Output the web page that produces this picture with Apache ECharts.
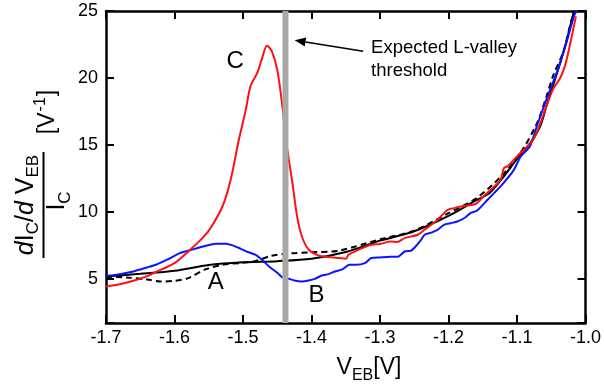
<!DOCTYPE html>
<html><head><meta charset="utf-8">
<script src="https://cdn.jsdelivr.net/npm/echarts@6/dist/echarts.min.js"></script>
<style>html,body{margin:0;padding:0;background:#fff}#c{width:604px;height:385px}</style>
</head><body><div id="c"></div>
<script>
// ---- data (V_EB in volts, normalized derivative in 1/V) ----
const xMin = -1.7, xMax = -1.0, yMin = 1.7, yMax = 25;
const thresholdV = -1.438;

const solidX = [-1.70,-1.65,-1.60,-1.55,-1.50,-1.45,-1.40,-1.35,-1.30,-1.25,-1.20,-1.16,-1.14,-1.12,-1.10,-1.08,-1.066,-1.057,-1.047,-1.037,-1.027,-1.017];
const solidY = [5.18,5.37,5.60,6.03,6.23,6.32,6.50,7.00,7.85,8.55,9.70,10.85,11.4,12.6,13.95,15.2,16.4,17.9,19.5,21.1,22.9,25.0];

const dashX = [-1.70,-1.67,-1.64,-1.62,-1.60,-1.58,-1.555,-1.53,-1.50,-1.48,-1.46,-1.43,-1.40,-1.36,-1.30,-1.25,-1.20,-1.16,-1.124,-1.095,-1.071,-1.057,-1.047,-1.032,-1.02,-1.014];
const dashY = [5.15,5.10,4.95,4.80,4.85,5.05,5.70,6.05,6.20,6.35,6.70,6.90,6.98,7.10,7.95,8.60,9.90,11.0,12.6,14.4,16.6,18.6,20.2,22.0,24.4,25.0];

const blueX = [-1.700,-1.680,-1.660,-1.640,-1.627,-1.610,-1.593,-1.573,-1.555,-1.540,-1.525,-1.515,-1.506,-1.495,-1.482,-1.472,-1.462,-1.450,-1.443,-1.433,-1.425,-1.415,-1.404,-1.395,-1.385,-1.375,-1.366,-1.355,-1.345,-1.335,-1.322,-1.313,-1.300,-1.285,-1.274,-1.264,-1.255,-1.250,-1.240,-1.235,-1.225,-1.216,-1.206,-1.197,-1.187,-1.175,-1.168,-1.158,-1.143,-1.124,-1.105,-1.095,-1.081,-1.071,-1.057,-1.042,-1.028,-1.017,-1.013];
const blueY = [5.22,5.35,5.55,5.85,6.05,6.45,6.90,7.20,7.45,7.62,7.62,7.50,7.30,7.05,6.80,6.40,5.92,5.45,5.13,5.00,4.88,4.80,4.88,5.00,5.25,5.35,5.55,5.70,6.05,6.05,6.17,6.55,6.60,6.65,6.65,7.04,7.10,7.30,7.90,8.29,8.45,8.66,9.04,9.15,9.28,9.60,9.91,10.1,10.9,11.9,13.1,14.1,14.9,16.4,18.4,20.4,22.6,24.6,25.0];

const redX = [-1.700,-1.680,-1.660,-1.640,-1.629,-1.600,-1.576,-1.560,-1.549,-1.530,-1.518,-1.506,-1.496,-1.489,-1.479,-1.472,-1.465,-1.458,-1.450,-1.443,-1.436,-1.428,-1.421,-1.414,-1.404,-1.390,-1.375,-1.360,-1.350,-1.346,-1.330,-1.313,-1.300,-1.284,-1.275,-1.264,-1.245,-1.235,-1.216,-1.201,-1.192,-1.182,-1.170,-1.160,-1.148,-1.135,-1.124,-1.119,-1.114,-1.100,-1.090,-1.076,-1.066,-1.057,-1.047,-1.037,-1.030,-1.023,-1.014];
const redY = [4.43,4.60,4.85,5.20,5.47,6.17,7.22,8.00,8.66,10.4,12.4,15.4,17.6,19.4,20.4,21.5,22.4,22.0,20.6,18.1,14.9,12.2,9.66,8.16,7.17,6.75,6.62,6.55,6.50,6.80,7.20,7.54,7.60,7.79,7.75,8.04,8.29,8.66,9.41,10.16,10.28,10.4,10.5,10.6,11.2,11.8,12.4,13.27,13.4,14.14,14.64,15.4,16.6,17.9,19.2,20.0,20.9,22.4,24.6];

// annotation anchors in data coordinates
const letterLabels = ['A','B','C'];
const letterX = [-1.5396,-1.3928,-1.5113];
const letterY = [4.70,3.80,21.26];
const noteLines = ['Expected L-valley','threshold'];
const noteX = -1.313;
const noteY = [22.26,20.55];
const arrowFrom = [-1.3246,21.99];
const arrowTo = [-1.4246,22.81];

const FAM = '"Liberation Sans", Arial, sans-serif';
const zip = (xs, ys) => xs.map((x,i)=>[x, ys[i]]);

const chart = echarts.init(document.getElementById('c'), null, {renderer:'canvas'});
const axisLine = {show:true, lineStyle:{color:'#000', width:2.5}};
const axisTick = {show:true, inside:true, length:8, lineStyle:{color:'#000', width:2}};
chart.setOption({
  animation:false,
  backgroundColor:'#fff',
  grid:{left:106, right:15, top:11, bottom:62, containLabel:false},
  xAxis:[
    {type:'value', min:xMin, max:xMax, interval:0.1, position:'bottom',
     axisLine, axisTick, splitLine:{show:false},
     axisLabel:{color:'#000', fontSize:18, fontFamily:FAM, margin:6, formatter:v=>v.toFixed(1)}},
    {type:'value', min:xMin, max:xMax, interval:0.1, position:'top',
     axisLine, axisTick, splitLine:{show:false}, axisLabel:{show:false}}
  ],
  yAxis:[
    {type:'value', min:yMin, max:yMax, splitNumber:5, position:'left',
     axisLine, axisTick, splitLine:{show:false},
     axisLabel:{color:'#000', fontSize:18, fontFamily:FAM, margin:8,
       formatter:v=>(Math.abs(v/5-Math.round(v/5))<1e-6 ? String(Math.round(v)) : '')}},
    {type:'value', min:yMin, max:yMax, splitNumber:5, position:'right',
     axisLine, axisTick, splitLine:{show:false}, axisLabel:{show:false}}
  ],
  series:[
    {type:'line', data:zip(dashX,dashY), showSymbol:false, smooth:0.3, lineStyle:{color:'#000', width:2, type:[6,4]}},
    {type:'line', data:zip(solidX,solidY), showSymbol:false, smooth:0.3, lineStyle:{color:'#000', width:2}},
    {type:'line', data:zip(blueX,blueY), showSymbol:false, smooth:0.2, lineStyle:{color:'#0a14ff', width:2}},
    {type:'line', data:zip(redX,redY), showSymbol:false, smooth:0.3, lineStyle:{color:'#ff1010', width:2}},
    {type:'line', data:[[thresholdV,yMin],[thresholdV,yMax]], showSymbol:false, lineStyle:{color:'#a8a8a8', width:6}, z:5}
  ]
});

const P = (x,y)=>chart.convertToPixel({xAxisIndex:0,yAxisIndex:0},[x,y]);
const g = [];
letterLabels.forEach((t,i)=>{
  const p = P(letterX[i], letterY[i]);
  g.push({type:'text', x:p[0], y:p[1], style:{text:t, font:'24px '+FAM, fill:'#000', align:'center', verticalAlign:'middle'}});
});
noteLines.forEach((t,i)=>{
  const p = P(noteX, noteY[i]);
  g.push({type:'text', x:p[0], y:p[1], style:{text:t, font:'18.5px '+FAM, fill:'#000', align:'left', verticalAlign:'middle'}});
});
const a0 = P(arrowFrom[0],arrowFrom[1]), a1 = P(arrowTo[0],arrowTo[1]);
const ang = Math.atan2(a1[1]-a0[1], a1[0]-a0[0]);
const hl = 11, hw = 4.5;
const base = [a1[0]-hl*Math.cos(ang), a1[1]-hl*Math.sin(ang)];
g.push({type:'line', shape:{x1:a0[0],y1:a0[1],x2:base[0],y2:base[1]}, style:{stroke:'#000', lineWidth:1.5}});
g.push({type:'polygon', shape:{points:[a1,[base[0]+hw*Math.sin(ang), base[1]-hw*Math.cos(ang)],[base[0]-hw*Math.sin(ang), base[1]+hw*Math.cos(ang)]]}, style:{fill:'#000'}});

// math-like text built from pieces with baseline shifts (sub/superscripts)
const mctx = document.createElement('canvas').getContext('2d');
function fontOf(p){ return (p.it?'italic ':'') + p.s + 'px ' + FAM; }
function mathGroup(pieces, bx, by, rot){
  let w = 0;
  const ws = pieces.map(p=>{ mctx.font = fontOf(p); const m = mctx.measureText(p.t).width; w += m + (p.gap||0); return m; });
  let cur = -w/2;
  const children = pieces.map((p,i)=>{
    const el = {type:'text', x:cur, y:(p.dy||0) - 0.33*p.s,
      style:{text:p.t, font:fontOf(p), fill:'#000', align:'left', verticalAlign:'middle'}};
    cur += ws[i] + (p.gap||0);
    return el;
  });
  return {type:'group', x:bx, y:by, rotation:rot||0, children};
}
const R = Math.PI/2;
// numerator: d I_C / d V_EB   (baseline screen x, centre screen y)
g.push(mathGroup([
  {t:'d', s:25, it:true},{t:'I', s:25},{t:'C', s:17, dy:5},{t:'/', s:25},
  {t:'d', s:25, it:true},{t:' V', s:25},{t:'EB', s:17, dy:5}
], 34, 205, R));
// denominator: I_C
g.push(mathGroup([{t:'I', s:25},{t:'C', s:17, dy:5}], 65.5, 201, R));
g.push({type:'line', shape:{x1:43.5, y1:152, x2:43.5, y2:258}, style:{stroke:'#000', lineWidth:2}});
// [V^-1]
g.push(mathGroup([{t:'[V', s:23, gap:1},{t:'-1', s:16, dy:-9, gap:1},{t:']', s:23}], 55, 112, R));
// x-axis title: V_EB [V]
g.push(mathGroup([{t:'V', s:23},{t:'EB', s:16, dy:6},{t:'[V]', s:23}], 369, 375, 0));
chart.setOption({graphic:g});
</script></body></html>
